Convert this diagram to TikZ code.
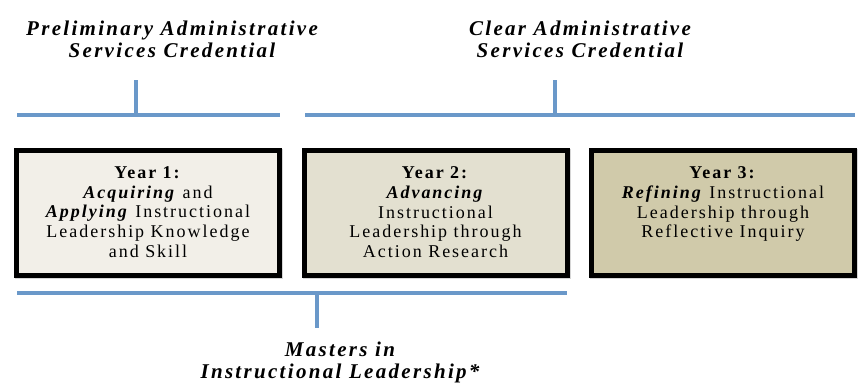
\documentclass[tikz,border=0pt]{standalone}
\usepackage{fontspec}
\setmainfont{Liberation Serif}[LetterSpace=11]
\newfontfamily\titlefont{Liberation Serif}[LetterSpace=11]
\definecolor{lineblue}{HTML}{6A98C9}
\definecolor{fillA}{HTML}{F2EFE8}
\definecolor{fillB}{HTML}{E3E0D0}
\definecolor{fillC}{HTML}{D0CAAA}
\tikzset{
  bar/.style={draw=lineblue, line width=4pt},
  barshadow/.style={draw=black!35, line width=4pt, opacity=0.35},
  yearbox/.style={draw=black, line width=5pt, minimum width=263pt, minimum height=125pt, inner sep=0pt},
  boxshadow/.style={fill=black!40, opacity=0.4, minimum width=268pt, minimum height=130pt, inner sep=0pt},
  boxtext/.style={anchor=north, align=center, font=\fontsize{18}{19.7}\selectfont, inner sep=0pt},
  title/.style={align=center, font=\titlefont\fontsize{21}{22}\selectfont\bfseries\itshape, inner sep=0pt}
}
\begin{document}
\begin{tikzpicture}[x=1pt,y=-1pt]
\useasboundingbox (0,0) rectangle (859,391);
% titles
\node[title] (t1) at (172,39) {Preliminary Administrative\\Services Credential};
\node[title] (t2) at (580,39) {Clear Administrative\\Services Credential};
% bracket coordinates
\coordinate (b1l) at (17,115); \coordinate (b1r) at (280,115);
\coordinate (b1m) at (136,115); \coordinate (b1t) at (136,80);
\coordinate (b2l) at (305,115); \coordinate (b2r) at (855,115);
\coordinate (b2m) at (555,115); \coordinate (b2t) at (555,80);
\coordinate (b3l) at (17,293); \coordinate (b3r) at (567,293);
\coordinate (b3m) at (317,293); \coordinate (b3b) at (317,328);
% shadows
\begin{scope}[shift={(1.5,2.5)}]
\draw[barshadow] (b1l) -- (b1r); \draw[barshadow] (b1m) -- (b1t);
\draw[barshadow] (b2l) -- (b2r); \draw[barshadow] (b2m) -- (b2t);
\draw[barshadow] (b3l) -- (b3r); \draw[barshadow] (b3m) -- (b3b);
\end{scope}
\draw[bar] (b1l) -- (b1r); \draw[bar] (b1m) -- (b1t);
\draw[bar] (b2l) -- (b2r); \draw[bar] (b2m) -- (b2t);
\draw[bar] (b3l) -- (b3r); \draw[bar] (b3m) -- (b3b);
% boxes
\node[boxshadow] (s1) at (149,213.5) {};
\node[boxshadow] (s2) at (436.5,213.5) {};
\node[boxshadow] (s3) at (724,213.5) {};
\node[yearbox, fill=fillA] (y1) at (148,212.5) {};
\node[yearbox, fill=fillB] (y2) at (435.5,212.5) {};
\node[yearbox, fill=fillC] (y3) at (723,212.5) {};
\node[boxtext] (y1t) at (148,166.5) {\textbf{Year 1:}\\\textbf{\textit{Acquiring}} and\\\textbf{\textit{Applying}} Instructional\\Leadership Knowledge\\and Skill};
\node[boxtext] (y2t) at (435.5,166.5) {\textbf{Year 2:}\\\textbf{\textit{Advancing}}\\Instructional\\Leadership through\\Action Research};
\node[boxtext] (y3t) at (723,166.5) {\textbf{Year 3:}\\\textbf{\textit{Refining}} Instructional\\Leadership through\\Reflective Inquiry};
% bottom title
\node[title] (t3) at (340,362) {Masters in\\Instructional Leadership*};
\end{tikzpicture}
\end{document}
